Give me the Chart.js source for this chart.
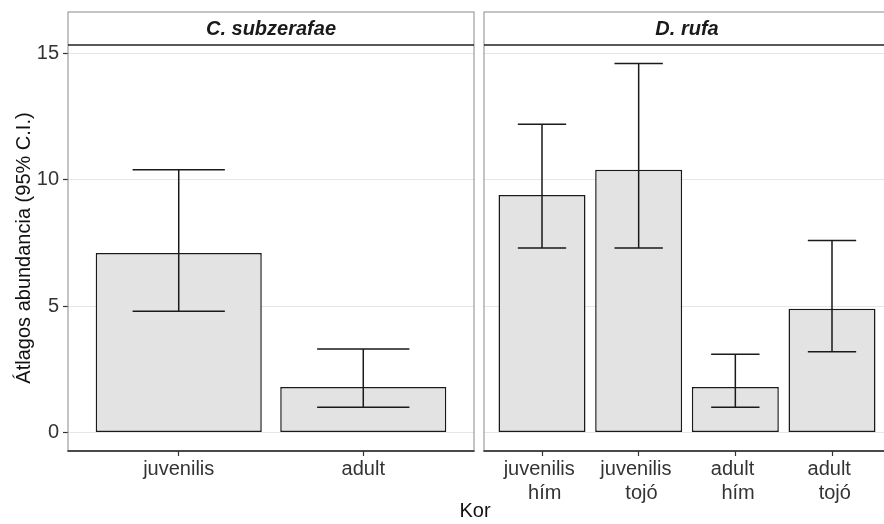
<!DOCTYPE html>
<html>
<head>
<meta charset="utf-8">
<script src="https://cdn.jsdelivr.net/npm/chart.js@4/dist/chart.umd.min.js"></script>
<style>
  body { margin: 0; width: 884px; height: 524px; overflow: hidden; background: #fff; position: relative; }
  canvas { position: absolute; top: 0; }
  #left_panel { left: 0; }
  #right_panel { left: 480px; }
  #x_title {
    position: absolute; left: 0; width: 950px; top: 498px;
    text-align: center; font: 20px "Liberation Sans", Arial, sans-serif; line-height: 24px; color: #111;
  }
</style>
</head>
<body>
<canvas id="left_panel" width="480" height="524"></canvas>
<canvas id="right_panel" width="414" height="524"></canvas>
<div id="x_title">Kor</div>
<script>
// facet titles
const facet_left = "C. subzerafae";
const facet_right = "D. rufa";

// C. subzerafae
const left_categories = ["juvenilis", "adult"];
const left_means = [7.1, 1.8];
const left_lower = [4.8, 1.0];
const left_upper = [10.4, 3.3];

// D. rufa
const right_categories = [["juvenilis ", " hím"], ["juvenilis ", " tojó"], ["adult ", " hím"], ["adult ", " tojó"]];
const right_means = [9.4, 10.4, 1.8, 4.9];
const right_lower = [7.3, 7.3, 1.0, 3.2];
const right_upper = [12.2, 14.6, 3.1, 7.6];

const y_ticks = [0, 5, 10, 15];
const y_title = "Átlagos abundancia (95% C.I.)";

const font_family = '"Liberation Sans", Arial, sans-serif';
const cap_half = 0.25;

const error_points = (lower, upper) => {
  // caps + vertical segment, separated by null gaps
  const pts = [];
  lower.forEach((lo, i) => {
    const hi = upper[i];
    pts.push({ x: i - cap_half, y: hi }, { x: i + cap_half, y: hi }, { x: i, y: null });
    pts.push({ x: i, y: hi }, { x: i, y: lo }, { x: i, y: null });
    pts.push({ x: i - cap_half, y: lo }, { x: i + cap_half, y: lo }, { x: i, y: null });
  });
  return pts;
};

const panel_frame = {
  id: "panel_frame",
  afterDraw(chart) {
    const { ctx, chartArea: a } = chart;
    const t = chart.titleBlock;
    ctx.save();
    ctx.strokeStyle = "#8a8a8a";
    ctx.lineWidth = 1;
    ctx.strokeRect(a.left, t.top, a.right - a.left, a.bottom - t.top);
    ctx.strokeStyle = "#222";
    ctx.lineWidth = 1.5;
    ctx.beginPath();
    ctx.moveTo(a.left, a.top);
    ctx.lineTo(a.right, a.top);
    ctx.moveTo(a.left - 0.5, a.bottom);
    ctx.lineTo(a.right + 0.5, a.bottom);
    ctx.stroke();
    ctx.restore();
  },
};

const make_panel = (canvas_id, title, categories, means, lower, upper, show_y) => {
  const n = categories.length;
  const config = {
    type: "bar",
    data: {
      datasets: [
        {
          type: "line",
          order: 0,
          data: error_points(lower, upper),
          borderColor: "#1a1a1a",
          borderWidth: 1.5,
          pointRadius: 0,
          spanGaps: false,
          fill: false,
        },
        {
          order: 1,
          data: means.map((v, i) => ({ x: i, y: v })),
          backgroundColor: "#e3e3e3",
          borderColor: "#1a1a1a",
          borderWidth: 1.5,
          borderSkipped: false,
          categoryPercentage: 1,
          barPercentage: 0.9,
        },
      ],
    },
    options: {
      responsive: false,
      animation: false,
      layout: { padding: { top: 12, right: show_y ? 6 : 4, left: show_y ? 0 : 4, bottom: 0 } },
      plugins: {
        legend: { display: false },
        tooltip: { enabled: false },
        title: {
          display: true,
          text: title,
          fullSize: false,
          color: "#1a1a1a",
          font: { family: font_family, size: 20, weight: "bold", style: "italic" },
          padding: { top: 5, bottom: 4 },
        },
      },
      scales: {
        x: {
          type: "linear",
          offset: false,
          min: -0.6,
          max: n - 1 + 0.6,
          afterBuildTicks: (axis) => { axis.ticks = categories.map((c, i) => ({ value: i })); },
          afterFit: (axis) => { axis.height = 73; },
          border: { display: false },
          grid: { offset: false, drawOnChartArea: false, drawTicks: true, tickLength: 5, tickColor: "#333", tickWidth: 1.2 },
          ticks: {
            autoSkip: false,
            maxRotation: 0,
            padding: 1,
            color: "#333",
            font: { family: font_family, size: 20 },
            callback: (value) => categories[value],
          },
        },
        y: {
          min: -0.73,
          max: 15.33,
          afterBuildTicks: (axis) => { axis.ticks = y_ticks.map((v) => ({ value: v })); },
          afterFit: (axis) => { axis.width = show_y ? 68 : 0; },
          border: { display: false },
          grid: { color: "#e6e6e6", lineWidth: 1, drawTicks: show_y, tickLength: 5, tickColor: "#333", tickWidth: 1.2 },
          ticks: {
            display: show_y,
            padding: 4,
            color: "#333",
            font: { family: font_family, size: 20 },
          },
          title: {
            display: show_y,
            text: y_title,
            color: "#111",
            font: { family: font_family, size: 20 },
            padding: { top: 12, bottom: 0 },
          },
        },
      },
    },
    plugins: [panel_frame],
  };
  return new Chart(document.getElementById(canvas_id), config);
};

const left_chart = make_panel("left_panel", facet_left, left_categories, left_means, left_lower, left_upper, true);
const right_chart = make_panel("right_panel", facet_right, right_categories, right_means, right_lower, right_upper, false);
</script>
</body>
</html>
